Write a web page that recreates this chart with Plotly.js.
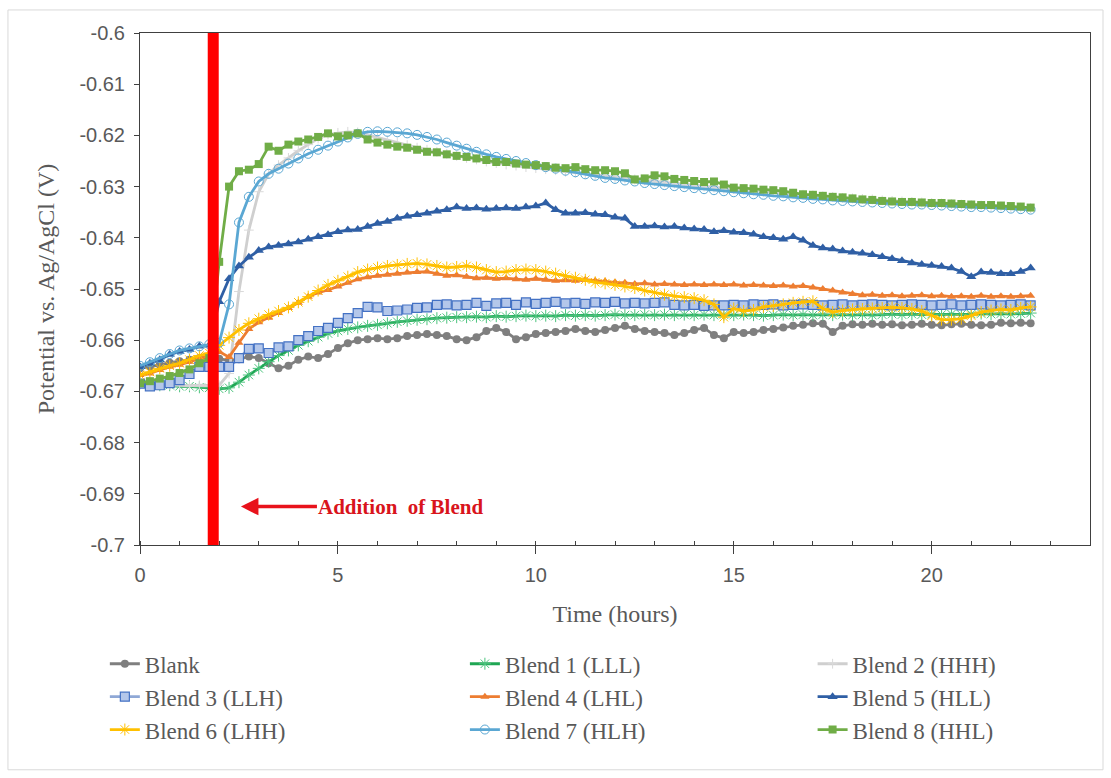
<!DOCTYPE html>
<html><head><meta charset="utf-8">
<script src="https://cdn.plot.ly/plotly-3.0.1.min.js"></script>
<style>html,body{margin:0;padding:0;background:#fff;}#chart{width:1111px;height:778px;}</style>
</head><body><div id="chart"></div>
<script>
const time = [0,0.25,0.5,0.75,1,1.25,1.5,1.75, 2,2.25,2.5,2.75,3,3.25,3.5,3.75, 4,4.25,4.5,4.75,5,5.25,5.5,5.75,
 6,6.25,6.5,6.75,7,7.25,7.5,7.75, 8,8.25,8.5,8.75,9,9.25,9.5,9.75, 10,10.25,10.5,10.75,11,11.25,11.5,11.75,
 12,12.25,12.5,12.75,13,13.25,13.5,13.75, 14,14.25,14.5,14.75,15,15.25,15.5,15.75, 16,16.25,16.5,16.75,17,17.25,17.5,17.75,
 18,18.25,18.5,18.75,19,19.25,19.5,19.75, 20,20.25,20.5,20.75,21,21.25,21.5,21.75, 22,22.25,22.5];

const seriesNames = ['Blank','Blend 1 (LLL)','Blend 2 (HHH)','Blend 3 (LLH)','Blend 4 (LHL)','Blend 5 (HLL)','Blend 6 (LHH)','Blend 7 (HLH)','Blend 8 (HHL)'];

const blank = [-0.6655,-0.6652,-0.6648,-0.6644,-0.6641,-0.6638,-0.6635,-0.6633,
 -0.6636,-0.6640,-0.6637,-0.6632,-0.6635,-0.6645,-0.6655,-0.6650,
 -0.6638,-0.6632,-0.6635,-0.6627,-0.6615,-0.6606,-0.6600,-0.6598,
 -0.6596,-0.6598,-0.6596,-0.6592,-0.6590,-0.6588,-0.6590,-0.6592,
 -0.6598,-0.6600,-0.6594,-0.6582,-0.6576,-0.6584,-0.6598,-0.6594,
 -0.6588,-0.6586,-0.6584,-0.6582,-0.6578,-0.6582,-0.6584,-0.6580,
 -0.6576,-0.6572,-0.6578,-0.6582,-0.6584,-0.6586,-0.6590,-0.6586,
 -0.6580,-0.6576,-0.6590,-0.6596,-0.6584,-0.6586,-0.6584,-0.6580,
 -0.6578,-0.6575,-0.6572,-0.6570,-0.6567,-0.6568,-0.6584,-0.6572,
 -0.6569,-0.6570,-0.6568,-0.6570,-0.6569,-0.6571,-0.6570,-0.6568,
 -0.6570,-0.6571,-0.6569,-0.6568,-0.6570,-0.6571,-0.6570,-0.6566,
 -0.6567,-0.6566,-0.6567];

const blend1 = [-0.6684,-0.6686,-0.6688,-0.6688,-0.6690,-0.6690,-0.6692,-0.6693,
 -0.6695,-0.6693,-0.6682,-0.6668,-0.6655,-0.6642,-0.6630,-0.6620,
 -0.6610,-0.6602,-0.6594,-0.6587,-0.6582,-0.6578,-0.6575,-0.6572,
 -0.6570,-0.6567,-0.6564,-0.6562,-0.6560,-0.6559,-0.6557,-0.6556,
 -0.6555,-0.6555,-0.6554,-0.6555,-0.6553,-0.6554,-0.6553,-0.6552,
 -0.6553,-0.6552,-0.6553,-0.6551,-0.6552,-0.6551,-0.6552,-0.6551,
 -0.6550,-0.6551,-0.6551,-0.6550,-0.6551,-0.6550,-0.6551,-0.6550,
 -0.6551,-0.6550,-0.6551,-0.6550,-0.6551,-0.6550,-0.6551,-0.6552,
 -0.6551,-0.6550,-0.6551,-0.6550,-0.6551,-0.6550,-0.6551,-0.6550,
 -0.6551,-0.6550,-0.6551,-0.6550,-0.6549,-0.6550,-0.6549,-0.6550,
 -0.6549,-0.6550,-0.6549,-0.6550,-0.6549,-0.6548,-0.6549,-0.6548,
 -0.6549,-0.6548,-0.6547];

const blend2 = [-0.6686,-0.6687,-0.6688,-0.6687,-0.6688,-0.6689,-0.6688,-0.6689,
 -0.6688,-0.6665,-0.6505,-0.6385,-0.6310,-0.6275,-0.6258,-0.6244,
 -0.6230,-0.6218,-0.6206,-0.6198,-0.6195,-0.6193,-0.6194,-0.6199,
 -0.6205,-0.6210,-0.6214,-0.6219,-0.6224,-0.6228,-0.6232,-0.6236,
 -0.6240,-0.6244,-0.6247,-0.6251,-0.6254,-0.6257,-0.6259,-0.6262,
 -0.6264,-0.6266,-0.6268,-0.6271,-0.6273,-0.6275,-0.6277,-0.6279,
 -0.6282,-0.6284,-0.6286,-0.6288,-0.6290,-0.6292,-0.6294,-0.6296,
 -0.6298,-0.6300,-0.6302,-0.6304,-0.6305,-0.6307,-0.6308,-0.6310,
 -0.6311,-0.6313,-0.6314,-0.6316,-0.6317,-0.6319,-0.6320,-0.6322,
 -0.6323,-0.6324,-0.6325,-0.6327,-0.6328,-0.6329,-0.6330,-0.6331,
 -0.6332,-0.6333,-0.6334,-0.6335,-0.6336,-0.6337,-0.6338,-0.6339,
 -0.6340,-0.6341,-0.6342];

const blend3 = [-0.6685,-0.6690,-0.6688,-0.6684,-0.6678,-0.6666,-0.6652,-0.6652,
 -0.6652,-0.6652,-0.6635,-0.6617,-0.6616,-0.6625,-0.6614,-0.6612,
 -0.6600,-0.6592,-0.6582,-0.6576,-0.6566,-0.6557,-0.6547,-0.6535,
 -0.6536,-0.6543,-0.6542,-0.6540,-0.6537,-0.6536,-0.6531,-0.6530,
 -0.6532,-0.6531,-0.6527,-0.6533,-0.6528,-0.6527,-0.6531,-0.6526,
 -0.6529,-0.6527,-0.6525,-0.6528,-0.6527,-0.6529,-0.6526,-0.6527,
 -0.6525,-0.6528,-0.6527,-0.6528,-0.6527,-0.6526,-0.6531,-0.6532,
 -0.6531,-0.6533,-0.6532,-0.6532,-0.6531,-0.6532,-0.6530,-0.6531,
 -0.6530,-0.6532,-0.6531,-0.6530,-0.6531,-0.6532,-0.6531,-0.6530,
 -0.6532,-0.6531,-0.6530,-0.6531,-0.6532,-0.6531,-0.6530,-0.6531,
 -0.6532,-0.6531,-0.6530,-0.6532,-0.6531,-0.6530,-0.6531,-0.6532,
 -0.6531,-0.6530,-0.6532];

const blend4 = [-0.6668,-0.6665,-0.6658,-0.6652,-0.6648,-0.6642,-0.6635,-0.6630,
 -0.6622,-0.6633,-0.6605,-0.6578,-0.6565,-0.6556,-0.6547,-0.6537,
 -0.6527,-0.6515,-0.6507,-0.6502,-0.6495,-0.6488,-0.6481,-0.6477,
 -0.6474,-0.6472,-0.6470,-0.6468,-0.6467,-0.6466,-0.6470,-0.6474,
 -0.6473,-0.6476,-0.6479,-0.6478,-0.6480,-0.6479,-0.6481,-0.6482,
 -0.6480,-0.6482,-0.6484,-0.6483,-0.6484,-0.6482,-0.6484,-0.6485,
 -0.6487,-0.6488,-0.6490,-0.6489,-0.6491,-0.6490,-0.6491,-0.6492,
 -0.6491,-0.6492,-0.6491,-0.6492,-0.6491,-0.6493,-0.6492,-0.6493,
 -0.6494,-0.6493,-0.6495,-0.6494,-0.6497,-0.6500,-0.6503,-0.6507,
 -0.6510,-0.6512,-0.6511,-0.6513,-0.6512,-0.6514,-0.6513,-0.6512,
 -0.6514,-0.6513,-0.6515,-0.6514,-0.6515,-0.6513,-0.6515,-0.6514,
 -0.6515,-0.6514,-0.6513];

const blend5 = [-0.6652,-0.6645,-0.6638,-0.6628,-0.6622,-0.6618,-0.6612,-0.6610,
 -0.6525,-0.6480,-0.6455,-0.6438,-0.6425,-0.6418,-0.6415,-0.6412,
 -0.6408,-0.6403,-0.6398,-0.6394,-0.6388,-0.6385,-0.6384,-0.6378,
 -0.6372,-0.6368,-0.6362,-0.6358,-0.6355,-0.6352,-0.6348,-0.6345,
 -0.6340,-0.6343,-0.6342,-0.6344,-0.6343,-0.6342,-0.6343,-0.6340,
 -0.6338,-0.6332,-0.6345,-0.6352,-0.6352,-0.6351,-0.6354,-0.6355,
 -0.6360,-0.6362,-0.6378,-0.6378,-0.6377,-0.6379,-0.6378,-0.6381,
 -0.6383,-0.6384,-0.6388,-0.6386,-0.6389,-0.6390,-0.6393,-0.6398,
 -0.6400,-0.6403,-0.6398,-0.6405,-0.6415,-0.6420,-0.6422,-0.6426,
 -0.6428,-0.6430,-0.6433,-0.6437,-0.6441,-0.6445,-0.6449,-0.6452,
 -0.6454,-0.6456,-0.6459,-0.6466,-0.6476,-0.6467,-0.6468,-0.6470,
 -0.6470,-0.6466,-0.6459];

const blend6 = [-0.6668,-0.6662,-0.6655,-0.6650,-0.6645,-0.6638,-0.6630,-0.6625,
 -0.6610,-0.6595,-0.6580,-0.6567,-0.6558,-0.6550,-0.6543,-0.6536,
 -0.6526,-0.6515,-0.6503,-0.6492,-0.6484,-0.6476,-0.6467,-0.6462,
 -0.6458,-0.6455,-0.6453,-0.6451,-0.6450,-0.6452,-0.6455,-0.6458,
 -0.6457,-0.6455,-0.6458,-0.6463,-0.6467,-0.6466,-0.6463,-0.6462,
 -0.6463,-0.6466,-0.6470,-0.6474,-0.6478,-0.6482,-0.6487,-0.6489,
 -0.6492,-0.6495,-0.6498,-0.6503,-0.6507,-0.6511,-0.6514,-0.6516,
 -0.6518,-0.6522,-0.6530,-0.6555,-0.6538,-0.6543,-0.6541,-0.6535,
 -0.6533,-0.6530,-0.6527,-0.6525,-0.6524,-0.6538,-0.6545,-0.6542,
 -0.6540,-0.6539,-0.6538,-0.6537,-0.6536,-0.6537,-0.6539,-0.6543,
 -0.6552,-0.6560,-0.6560,-0.6558,-0.6552,-0.6545,-0.6542,-0.6540,
 -0.6541,-0.6537,-0.6535];

const blend7 = [-0.6650,-0.6643,-0.6635,-0.6627,-0.6620,-0.6616,-0.6612,-0.6608,
 -0.6605,-0.6530,-0.6370,-0.6320,-0.6290,-0.6275,-0.6265,-0.6255,
 -0.6245,-0.6236,-0.6228,-0.6220,-0.6212,-0.6204,-0.6197,-0.6193,
 -0.6192,-0.6193,-0.6194,-0.6196,-0.6199,-0.6203,-0.6208,-0.6214,
 -0.6220,-0.6226,-0.6232,-0.6237,-0.6242,-0.6246,-0.6250,-0.6254,
 -0.6258,-0.6262,-0.6265,-0.6269,-0.6272,-0.6276,-0.6279,-0.6283,
 -0.6285,-0.6288,-0.6290,-0.6293,-0.6295,-0.6297,-0.6299,-0.6301,
 -0.6303,-0.6305,-0.6307,-0.6309,-0.6311,-0.6313,-0.6315,-0.6316,
 -0.6318,-0.6319,-0.6321,-0.6322,-0.6324,-0.6325,-0.6327,-0.6328,
 -0.6329,-0.6330,-0.6331,-0.6332,-0.6333,-0.6334,-0.6335,-0.6335,
 -0.6336,-0.6337,-0.6338,-0.6339,-0.6340,-0.6340,-0.6341,-0.6342,
 -0.6343,-0.6344,-0.6345];

const blend8 = [-0.6684,-0.6680,-0.6675,-0.6670,-0.6664,-0.6657,-0.6645,-0.6635,
 -0.6447,-0.6300,-0.6270,-0.6267,-0.6256,-0.6222,-0.6230,-0.6218,
 -0.6212,-0.6208,-0.6203,-0.6196,-0.6202,-0.6200,-0.6196,-0.6208,
 -0.6214,-0.6218,-0.6222,-0.6224,-0.6228,-0.6232,-0.6233,-0.6237,
 -0.6240,-0.6242,-0.6245,-0.6248,-0.6252,-0.6252,-0.6255,-0.6257,
 -0.6258,-0.6260,-0.6263,-0.6264,-0.6262,-0.6266,-0.6268,-0.6268,
 -0.6270,-0.6274,-0.6286,-0.6284,-0.6278,-0.6280,-0.6285,-0.6287,
 -0.6289,-0.6291,-0.6290,-0.6296,-0.6302,-0.6303,-0.6304,-0.6306,
 -0.6307,-0.6309,-0.6312,-0.6315,-0.6316,-0.6318,-0.6320,-0.6321,
 -0.6323,-0.6325,-0.6326,-0.6328,-0.6329,-0.6330,-0.6330,-0.6331,
 -0.6332,-0.6332,-0.6333,-0.6334,-0.6335,-0.6336,-0.6336,-0.6337,
 -0.6338,-0.6339,-0.6341];

const additionTime = 1.85;
const annotationText = 'Addition  of Blend';
const xTickVals = [0,5,10,15,20];
const xTickText = ['0','5','10','15','20'];
const yTickVals = [-0.6,-0.61,-0.62,-0.63,-0.64,-0.65,-0.66,-0.67,-0.68,-0.69,-0.7];
const yTickText = ['-0.6','-0.61','-0.62','-0.63','-0.64','-0.65','-0.66','-0.67','-0.68','-0.69','-0.7'];

const values = [blank, blend1, blend2, blend3, blend4, blend5, blend6, blend7, blend8];
const legendColumn = ['legend','legend2','legend3','legend','legend2','legend3','legend','legend2','legend3'];
const styles = [
  {line:'#7f7f7f', m:{symbol:'circle', size:8, color:'#7f7f7f', line:{width:0}}},
  {line:'#1fa653', m:{symbol:'asterisk-open', size:10, color:'#4cc47e', line:{width:1, color:'#4cc47e'}}},
  {line:'#cfcfcf', m:{symbol:'cross-thin-open', size:7, color:'#d9d9d9', line:{width:1, color:'#d9d9d9'}}},
  {line:'#8fa8d6', m:{symbol:'square', size:9, color:'#b4c7ea', line:{width:1.2, color:'#4472c4'}}},
  {line:'#ed7d31', m:{symbol:'triangle-up', size:8, color:'#ed7d31', line:{width:0}}},
  {line:'#2f5fa5', m:{symbol:'triangle-up', size:9, color:'#2f5fa5', line:{width:0}}},
  {line:'#ffc000', m:{symbol:'asterisk-open', size:10, color:'#ffc000', line:{width:1, color:'#ffc000'}}},
  {line:'#5aa7d3', m:{symbol:'circle-open', size:9, color:'#5aa7d3', line:{width:1, color:'#5aa7d3'}}},
  {line:'#70ad47', m:{symbol:'square', size:8, color:'#70ad47', line:{width:0}}}
];

const traces = values.map((v, i) => ({
  type: 'scatter', mode: 'lines+markers', name: seriesNames[i],
  x: time, y: v, legend: legendColumn[i],
  line: {color: styles[i].line, width: 2.8},
  marker: styles[i].m
}));

const legendFont = {family: 'Liberation Serif, Times New Roman, serif', size: 23, color: '#595959'};
function legendAt(xPaper) {
  return {orientation: 'v', x: xPaper, xanchor: 'left', y: -0.19, yanchor: 'top',
    itemwidth: 30, font: legendFont, bgcolor: 'rgba(0,0,0,0)', traceorder: 'normal'};
}

const layout = {
  width: 1111, height: 778,
  margin: {l: 140, r: 21, t: 33, b: 233},
  paper_bgcolor: '#ffffff', plot_bgcolor: '#ffffff',
  showlegend: true,
  xaxis: {
    range: [0, 24], showgrid: false, zeroline: false, automargin: false,
    showline: true, linecolor: '#404040', linewidth: 1, mirror: true,
    tickvals: xTickVals, ticktext: xTickText,
    ticks: 'outside', ticklen: 8, tickcolor: '#404040', tickwidth: 1, ticklabelstandoff: 4,
    minor: {dtick: 1, ticks: 'inside', ticklen: 4, tickcolor: '#404040', showgrid: false},
    tickfont: {family: 'Liberation Sans, Arial, sans-serif', size: 20, color: '#595959'},
    title: {text: 'Time (hours)', font: {family: 'Liberation Serif, Times New Roman, serif', size: 24, color: '#595959'}, standoff: 20}
  },
  yaxis: {
    range: [-0.7, -0.6], showgrid: false, zeroline: false, automargin: false,
    showline: true, linecolor: '#404040', linewidth: 1, mirror: true,
    tickvals: yTickVals, ticktext: yTickText,
    ticks: 'outside', ticklen: 5, tickcolor: '#404040', tickwidth: 1, ticklabelstandoff: 5,
    tickfont: {family: 'Liberation Sans, Arial, sans-serif', size: 20, color: '#595959'},
    title: {text: 'Potential vs. Ag/AgCl (V)', font: {family: 'Liberation Serif, Times New Roman, serif', size: 24, color: '#595959'}, standoff: 18}
  },
  legend: legendAt(-0.037),
  legend2: legendAt(0.342),
  legend3: legendAt(0.708),
  shapes: [
    {type: 'line', xref: 'x', yref: 'y', x0: additionTime, x1: additionTime, y0: -0.7, y1: -0.6,
     line: {color: '#ff0000', width: 11}, layer: 'above'},
    {type: 'rect', xref: 'paper', yref: 'paper', x0: -0.139, x1: 1.0137, y0: -0.439, y1: 1.045,
     line: {color: '#d9d9d9', width: 1}, fillcolor: 'rgba(0,0,0,0)', layer: 'below'}
  ],
  annotations: [
    {x: 2.55, y: -0.6925, xref: 'x', yref: 'y', text: '<b>' + annotationText + '</b>',
     showarrow: true, ax: 160, ay: 0, arrowhead: 2, arrowsize: 1, arrowwidth: 3.5, arrowcolor: '#e8121b',
     font: {family: 'Liberation Serif, Times New Roman, serif', size: 21, color: '#d9141c'}}
  ]
};

Plotly.newPlot('chart', traces, layout, {staticPlot: true, displayModeBar: false});
</script>
</body></html>
